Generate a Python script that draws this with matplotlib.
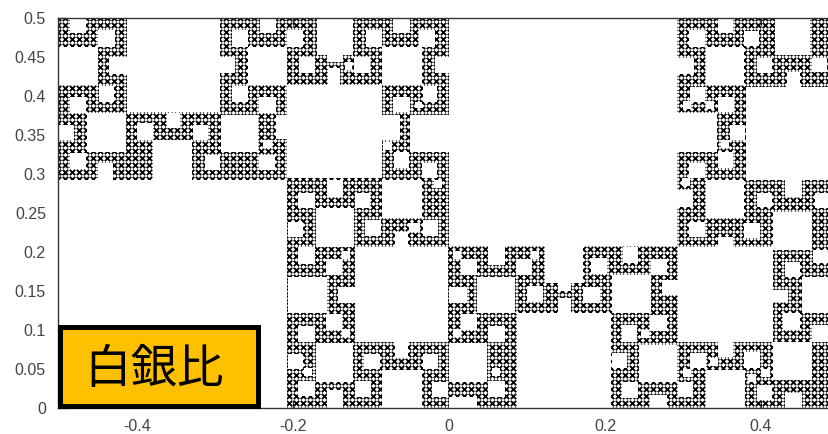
"""Silver ratio fractal (白銀比) over a gnuplot-style frame.

The white regions below are read off the picture in image pixels. The dense
points of the fractal cannot be read one by one, so the fine texture is a
stand-in lattice of small crosses, masked by those regions.
"""

import matplotlib
matplotlib.use("Agg")
import numpy as np
import matplotlib.pyplot as plt
from matplotlib.patches import Rectangle

X_TICKS = [-0.4, -0.2, 0, 0.2, 0.4]
X_LABELS = ["-0.4", "-0.2", "0", "0.2", "0.4"]
Y_TICKS = [0, 0.05, 0.1, 0.15, 0.2, 0.25, 0.3, 0.35, 0.4, 0.45, 0.5]
Y_LABELS = ["0", "0.05", "0.1", "0.15", "0.2", "0.25", "0.3", "0.35", "0.4", "0.45", "0.5"]
LABEL = "白銀比"

# large empty regions (x0, y0, x1, y1 in image pixels)
BIG_WHITE = [
    (58, 180, 287, 408), (127, 18, 220, 112), (449, 18, 677, 246), (287, 85, 382, 178),
    (355, 247, 448, 342), (678, 247, 773, 342), (746, 87, 829, 180), (517, 313, 611, 408),
    (545, 246, 583, 283), (802, 277, 829, 313),
]
# medium holes and notches
MID_WHITE = [
    (58, 47, 98, 85), (87, 113, 126, 152), (153, 140, 192, 180), (221, 115, 258, 152),
    (248, 47, 287, 85), (317, 18, 353, 55), (382, 47, 422, 85), (410, 115, 449, 152),
    (382, 180, 422, 218), (316, 208, 354, 247), (288, 277, 327, 313), (316, 343, 353, 382),
    (382, 370, 422, 408), (449, 343, 487, 382), (477, 277, 515, 313), (706, 47, 744, 85),
    (775, 18, 810, 55), (677, 113, 717, 152), (706, 180, 744, 218), (612, 275, 651, 313),
    (639, 345, 677, 382), (706, 370, 745, 408), (773, 342, 812, 380), (773, 212, 812, 250),
]
# small holes and notches
SMALL_WHITE = [
    (70, 18, 86, 33), (98, 30, 115, 47), (109, 57, 127, 74), (99, 86, 114, 102),
    (70, 97, 86, 113), (58, 125, 74, 140), (70, 153, 86, 169), (98, 163, 113, 180),
    (137, 123, 153, 140), (167, 113, 180, 128), (193, 125, 208, 140), (205, 155, 220, 170),
    (259, 97, 276, 113), (232, 86, 248, 102), (260, 18, 276, 33), (232, 30, 248, 47),
    (220, 57, 235, 73), (287, 30, 303, 47), (299, 57, 315, 73), (354, 57, 370, 73),
    (366, 30, 382, 47), (419, 30, 435, 47), (393, 18, 410, 33), (435, 57, 449, 73),
    (423, 86, 437, 102), (393, 97, 410, 112), (259, 155, 275, 170), (276, 115, 287, 139),
    (382, 115, 400, 140), (422, 163, 437, 178), (394, 152, 409, 168), (327, 55, 343, 62),
    (328, 68, 340, 85), (423, 220, 438, 236), (327, 180, 343, 197), (298, 193, 315, 208),
    (355, 193, 370, 208), (365, 220, 381, 236), (395, 232, 408, 248), (288, 222, 303, 237),
    (298, 247, 315, 264), (326, 259, 342, 275), (338, 287, 355, 303), (298, 326, 315, 342),
    (326, 314, 342, 330), (364, 354, 380, 369), (423, 354, 438, 369), (298, 381, 315, 396),
    (355, 381, 371, 397), (327, 390, 343, 408), (288, 354, 303, 369), (395, 342, 408, 358),
    (432, 382, 448, 397), (488, 326, 505, 342), (461, 314, 477, 330), (488, 381, 505, 397),
    (449, 287, 467, 303), (461, 259, 477, 275), (527, 286, 543, 302), (516, 259, 532, 275),
    (488, 246, 505, 265), (449, 397, 477, 408), (558, 283, 571, 291), (558, 298, 571, 313),
    (689, 30, 705, 47), (744, 31, 759, 46), (718, 18, 733, 33), (677, 58, 694, 74),
    (757, 58, 772, 73), (812, 58, 827, 72), (690, 87, 705, 102), (718, 97, 734, 112),
    (730, 125, 745, 140), (718, 152, 733, 168), (689, 163, 705, 178), (677, 190, 693, 207),
    (757, 193, 772, 207), (815, 193, 829, 208), (785, 180, 802, 197), (787, 72, 800, 87),
    (744, 223, 760, 238), (689, 222, 705, 237), (718, 237, 733, 248), (591, 258, 607, 274),
    (651, 259, 667, 275), (623, 247, 638, 263), (662, 280, 678, 295), (583, 287, 600, 303),
    (650, 315, 667, 331), (622, 325, 637, 342), (678, 382, 693, 397), (612, 353, 627, 368),
    (622, 382, 638, 398), (650, 395, 667, 408), (690, 353, 706, 368), (718, 342, 733, 357),
    (785, 262, 800, 277), (813, 250, 829, 263), (783, 313, 800, 330), (812, 325, 829, 342),
    (773, 290, 788, 302), (744, 352, 760, 368), (757, 385, 772, 400), (785, 393, 802, 408),
]
# tiniest holes around the rings
TINY_WHITE = [
    (263, 140, 272, 148), (409, 223, 420, 232), (345, 62, 352, 70), (415, 102, 422, 108),
    (383, 142, 392, 150), (434, 180, 442, 188), (342, 251, 350, 259), (342, 329, 350, 337),
    (304, 368, 312, 376), (453, 251, 461, 259), (453, 329, 461, 337), (492, 368, 500, 376),
    (531, 251, 539, 259), (706, 101, 714, 109), (683, 101, 691, 109), (721, 140, 729, 148),
    (682, 178, 690, 186), (641, 330, 649, 338), (683, 369, 691, 377), (710, 358, 718, 366),
    (761, 369, 770, 377), (748, 374, 756, 382),
]
# label box, image pixels
BOX = (60, 327, 258, 406)

plt.rcParams["font.family"] = ["Liberation Sans", "DejaVu Sans"]

PX_PER_UNIT = 780.0


def to_x(px):
    return (np.asarray(px, dtype=float) - 449) / PX_PER_UNIT


def to_y(py):
    return (408 - np.asarray(py, dtype=float)) / PX_PER_UNIT


fig = plt.figure(figsize=(8.29, 4.34), dpi=100)
ax = fig.add_axes([58.5 / 829, 26 / 434, 770.5 / 829, 390 / 434])
ax.set_xlim(to_x(58.5), to_x(829))
ax.set_ylim(0, 0.5)

# texture: small crosses on a lattice, hidden by the white regions
step = 7.0
gx, gy = np.meshgrid(np.arange(58, 835, step), np.arange(18, 412, step))
ax.scatter(to_x(gx.ravel()), to_y(gy.ravel()), marker="x", s=15, linewidths=1.35, color="black", zorder=2)

for x0, y0, x1, y1 in BIG_WHITE + MID_WHITE + SMALL_WHITE + TINY_WHITE:
    ax.add_patch(Rectangle((to_x(x0), to_y(y1)), (x1 - x0) / PX_PER_UNIT, (y1 - y0) / PX_PER_UNIT,
                           facecolor="white", edgecolor="none", zorder=3))

ax.set_xticks(X_TICKS, X_LABELS)
ax.set_yticks(Y_TICKS, Y_LABELS)
ax.tick_params(direction="in", length=6, width=0.9, top=True, color="#333333", labelcolor="#444444",
               labelsize=11.5, pad=9)
ax.tick_params(axis="x", pad=8)
ax.spines["right"].set_visible(False)
for s in ["left", "top", "bottom"]:
    ax.spines[s].set_color("#333333")
    ax.spines[s].set_linewidth(1.0)
    ax.spines[s].set_zorder(4)

x0, y0, x1, y1 = BOX
ax.add_patch(Rectangle((to_x(x0), to_y(y1)), (x1 - x0) / PX_PER_UNIT, (y1 - y0) / PX_PER_UNIT,
                       facecolor="#FFC000", edgecolor="black", linewidth=3.6, zorder=5, clip_on=False))
ax.text(to_x(154), to_y(370), LABEL, ha="center", va="center", fontsize=33.5,
        family=["Noto Sans CJK JP", "DejaVu Sans"], color="black", zorder=6)

fig.savefig("out.png", dpi=100)
